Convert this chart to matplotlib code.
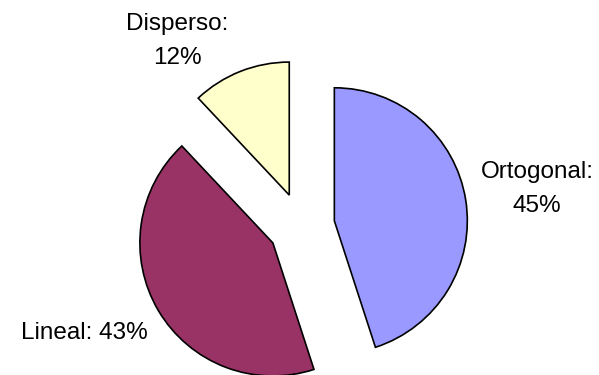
import matplotlib.pyplot as plt

categories = ["Ortogonal", "Lineal", "Disperso"]
values = [45, 43, 12]
colors = ["#9999FF", "#993366", "#FFFFCC"]

W, H = 599, 375
cx, cy, r = 301.5, 226, 133  # pie centre / radius in pixels

fig = plt.figure(figsize=(W / 100, H / 100), dpi=100)
ax = fig.add_axes([0, 0, 1, 1])

ax.pie(values, colors=colors, startangle=90, counterclock=False,
       explode=[0.25, 0.25, 0.25], radius=1,
       wedgeprops=dict(edgecolor="black", linewidth=1.2))

# pie() resets the limits, so set them afterwards
ax.set_xlim(-cx / r, (W - cx) / r)
ax.set_ylim(-(H - cy) / r, cy / r)
ax.axis("off")

def px(x, y):
    return (x - cx) / r, (cy - y) / r

label_pos = {"Ortogonal": (537, 189), "Lineal": (84, 333), "Disperso": (177, 41)}
for name, v in zip(categories, values):
    if name == "Lineal":
        s = f"{name}: {v}%"
    else:
        s = f"{name}:\n{v}%"
    ax.text(*px(*label_pos[name]), s, ha="center", va="center",
            multialignment="center", fontsize=17.5, family="Liberation Sans",
            linespacing=1.65)

fig.savefig("out.png", dpi=100, facecolor="white")
